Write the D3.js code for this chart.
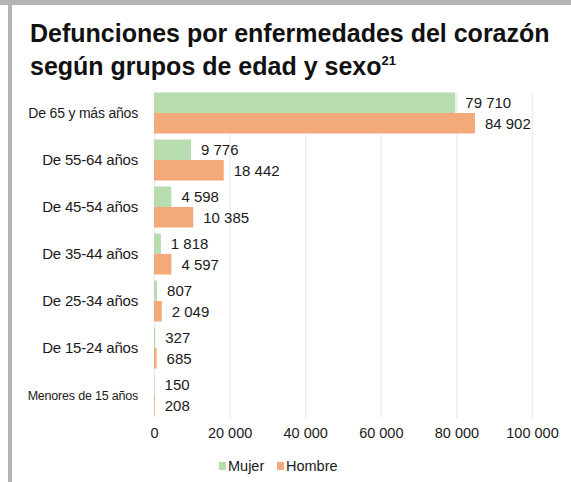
<!DOCTYPE html>
<html>
<head>
<meta charset="utf-8">
<script src="https://cdn.jsdelivr.net/npm/d3@7"></script>
<style>
  body { margin: 0; background: #fff; }
  svg { display: block; font-family: "Liberation Sans", Arial, sans-serif; }
</style>
</head>
<body>
<div id="chart"></div>
<script>
// datos
const categorias = [
  'De 65 y más años', 'De 55-64 años', 'De 45-54 años', 'De 35-44 años',
  'De 25-34 años', 'De 15-24 años', 'Menores de 15 años'
];
const mujer = [79710, 9776, 4598, 1818, 807, 327, 150];
const hombre = [84902, 18442, 10385, 4597, 2049, 685, 208];
const series = ['Mujer', 'Hombre'];
const ticks = [0, 20000, 40000, 60000, 80000, 100000];

const width = 571, height = 482;
const colores = { Mujer: '#b6dcb0', Hombre: '#f4a97b' };
const fmt = (d) => d3.format(',')(d).replace(/,/g, ' ');

const svg = d3.select('#chart').append('svg')
  .attr('width', width)
  .attr('height', height);

// marco gris
svg.append('rect').attr('x', 0).attr('y', 0).attr('width', width).attr('height', 5).attr('fill', '#b4b4b4');
svg.append('rect').attr('x', 8).attr('y', 0).attr('width', 4).attr('height', height).attr('fill', '#b4b4b4');

// título
svg.append('text')
  .attr('x', 30).attr('y', 42)
  .style('font-size', '25px').style('font-weight', 'bold').style('fill', '#111')
  .text('Defunciones por enfermedades del corazón');
const t2 = svg.append('text')
  .attr('x', 30).attr('y', 75)
  .style('font-size', '25px').style('font-weight', 'bold').style('fill', '#111');
t2.append('tspan').text('según grupos de edad y sexo');
t2.append('tspan').attr('dy', -10).style('font-size', '13px').text('21');

const xScale = d3.scaleLinear().domain([0, 100000]).range([154, 532]);
const yScale = d3.scaleBand().domain(categorias).range([89.5, 89.5 + 7 * 47]);
const ySub = d3.scaleBand().domain(series).range([3, 44]);

// rejilla vertical
svg.append('g')
  .attr('transform', 'translate(0, 418)')
  .call(d3.axisBottom(xScale).tickValues(ticks).tickSize(-326).tickFormat(''))
  .call((g) => g.select('.domain').remove())
  .selectAll('line')
  .style('stroke', '#eeeeee')
  .style('stroke-width', 1.5);

// etiquetas del eje X
svg.append('g')
  .attr('transform', 'translate(0, 425)')
  .call(d3.axisBottom(xScale).tickValues(ticks).tickSize(0).tickFormat(fmt))
  .call((g) => g.select('.domain').remove())
  .selectAll('text')
  .style('font-size', '14.5px')
  .style('font-family', '"Liberation Sans", Arial, sans-serif')
  .style('fill', '#1a1a1a');

const filas = categorias.map((c, i) => ({ cat: c, Mujer: mujer[i], Hombre: hombre[i] }));

const grupos = svg.append('g').selectAll('g')
  .data(filas)
  .join('g')
  .attr('transform', (d) => `translate(0, ${yScale(d.cat)})`);

grupos.selectAll('rect')
  .data((d) => series.map((s) => ({ s, v: d[s] })))
  .join('rect')
  .attr('x', xScale(0))
  .attr('y', (d) => ySub(d.s))
  .attr('width', (d) => xScale(d.v) - xScale(0))
  .attr('height', ySub.bandwidth())
  .attr('fill', (d) => colores[d.s]);

grupos.selectAll('text.valor')
  .data((d) => series.map((s) => ({ s, v: d[s] })))
  .join('text')
  .attr('class', 'valor')
  .attr('x', (d) => xScale(d.v) + 10)
  .attr('y', (d) => ySub(d.s) + ySub.bandwidth() / 2)
  .attr('dy', '0.36em')
  .style('font-size', '15px')
  .style('fill', '#1a1a1a')
  .text((d) => fmt(d.v));

// etiquetas de categoría
grupos.append('text')
  .attr('x', 138)
  .attr('y', yScale.bandwidth() / 2)
  .attr('dy', '0.36em')
  .attr('text-anchor', 'end')
  .style('font-size', (d, i) => i === 0 ? '14px' : (i === 6 ? '12.5px' : '15px'))
  .style('letter-spacing', '-0.2px')
  .style('fill', '#1a1a1a')
  .text((d) => d.cat);

// leyenda
const leyenda = svg.append('g').attr('transform', 'translate(219, 466)');
const items = leyenda.selectAll('g')
  .data(series)
  .join('g')
  .attr('transform', (d, i) => `translate(${i * 58}, 0)`);
items.append('rect')
  .attr('x', 0).attr('y', -4).attr('width', 7).attr('height', 8)
  .attr('fill', (d) => colores[d]);
items.append('text')
  .attr('x', 9).attr('dy', '0.36em')
  .style('font-size', '14.5px').style('fill', '#1a1a1a')
  .text((d) => d);
</script>
</body>
</html>
